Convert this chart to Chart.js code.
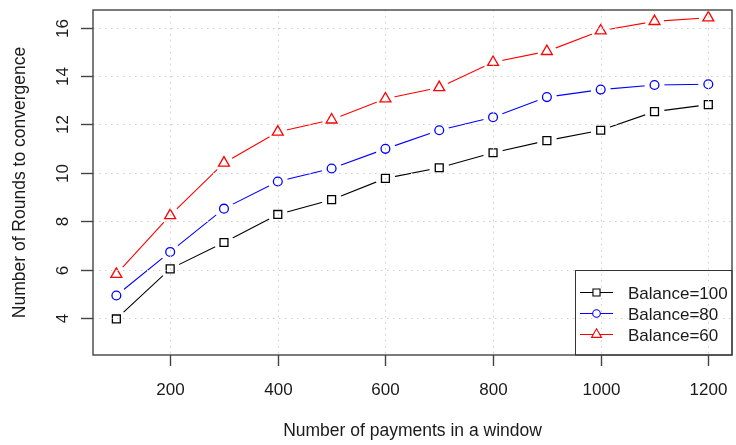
<!DOCTYPE html>
<html>
<head>
<meta charset="utf-8"/>
<style>
  html,body{margin:0;padding:0;background:#fff;overflow:hidden;}
  #wrap{position:absolute;left:0;top:0;width:742px;height:445px;}
</style>
</head>
<body>
<div id="wrap"><canvas id="c" width="742" height="445"></canvas></div>
<script src="https://cdn.jsdelivr.net/npm/chart.js@4.4.0/dist/chart.umd.min.js"></script>
<script>
// data
const payments = [100, 200, 300, 400, 500, 600, 700, 800, 900, 1000, 1100, 1200];
const bal100   = [3.96, 6.03, 7.12, 8.28, 8.89, 9.77, 10.21, 10.83, 11.33, 11.76, 12.53, 12.82];
const bal80    = [4.93, 6.73, 8.52, 9.64, 10.18, 10.99, 11.76, 12.30, 13.13, 13.44, 13.63, 13.66];
const bal60    = [5.81, 8.24, 10.41, 11.69, 12.19, 13.06, 13.53, 14.57, 15.02, 15.87, 16.26, 16.41];
const seriesNames = ["Balance=100", "Balance=80", "Balance=60"];
const xTicks = [200, 400, 600, 800, 1000, 1200];
const yTicks = [4, 6, 8, 10, 12, 14, 16];
const xTitle = "Number of payments in a window";
const yTitle = "Number of Rounds to convergence";

const FONT = '"Liberation Sans", Arial, sans-serif';
const INK  = "#1a1a1a";

const SERIES = [
  { name: seriesNames[0], vals: bal100, color: "#000000", style: "rect",     r: 5.6, halo: 10 },
  { name: seriesNames[1], vals: bal80,  color: "#0000ff", style: "circle",   r: 4.4, halo: 10 },
  { name: seriesNames[2], vals: bal60,  color: "#ff0000", style: "triangle", r: 6.3, halo: 9.5 },
];

const pts = (vals) => payments.map((p, i) => ({ x: p, y: vals[i] }));

const datasets = [];
SERIES.forEach(s => {
  // line + white halo so the line stops short of the marker (R type="b")
  datasets.push({
    label: s.name, data: pts(s.vals), borderColor: s.color, borderWidth: 1.1,
    pointStyle: "circle", pointRadius: s.halo, pointHoverRadius: s.halo,
    pointBackgroundColor: "#fff", pointBorderWidth: 0, pointBorderColor: "rgba(0,0,0,0)",
    tension: 0, fill: false, order: 1
  });
  // open markers on top
  datasets.push({
    label: s.name + " pts", data: pts(s.vals), showLine: false,
    pointStyle: s.style, pointRadius: s.r, pointHoverRadius: s.r,
    pointBorderColor: s.color, pointBackgroundColor: "rgba(0,0,0,0)", pointBorderWidth: 1.3,
    order: 0
  });
});

function seg(ctx, x1, y1, x2, y2) {
  ctx.beginPath(); ctx.moveTo(x1, y1); ctx.lineTo(x2, y2); ctx.stroke();
}

const rPlot = {
  id: "rPlot",
  afterDatasetsDraw(chart) {
    // grid() comes after the points in R, so dots sit on top
    const { ctx, chartArea: a, scales: { x, y } } = chart;
    ctx.save();
    ctx.strokeStyle = "#cfcfcf"; ctx.lineWidth = 1; ctx.setLineDash([1.5, 4.5]);
    xTicks.forEach(v => { const px = Math.round(x.getPixelForValue(v)) + 0.5; seg(ctx, px, a.top, px, a.bottom); });
    yTicks.forEach(v => { const py = Math.round(y.getPixelForValue(v)) + 0.5; seg(ctx, a.left, py, a.right, py); });
    ctx.restore();
  },
  afterDraw(chart) {
    const { ctx, chartArea: a, scales: { x, y } } = chart;
    ctx.save();
    // box
    ctx.strokeStyle = "#444"; ctx.lineWidth = 1.4;
    ctx.strokeRect(a.left, a.top, a.right - a.left, a.bottom - a.top);
    // tick marks + labels
    ctx.fillStyle = INK; ctx.font = "17px " + FONT;
    ctx.textAlign = "center"; ctx.textBaseline = "alphabetic";
    xTicks.forEach(v => {
      const px = Math.round(x.getPixelForValue(v)) + 0.5;
      seg(ctx, px, a.bottom, px, a.bottom + 11);
      ctx.fillText(String(v), px, 395);
    });
    yTicks.forEach(v => {
      const py = Math.round(y.getPixelForValue(v)) + 0.5;
      seg(ctx, a.left - 12, py, a.left, py);
      ctx.save(); ctx.translate(68, py); ctx.rotate(-Math.PI / 2);
      ctx.fillText(String(v), 0, 0); ctx.restore();
    });
    // axis titles
    ctx.font = "17.5px " + FONT;
    ctx.fillText(xTitle, (a.left + a.right) / 2, 436);
    ctx.save(); ctx.translate(25, (a.top + a.bottom) / 2); ctx.rotate(-Math.PI / 2);
    ctx.fillText(yTitle, 0, 0); ctx.restore();
    // legend (bottom right, transparent)
    ctx.strokeStyle = "#333"; ctx.lineWidth = 1;
    ctx.strokeRect(575.5, 270.5, a.right - 575.5, a.bottom - 270.5);
    ctx.font = "17px " + FONT; ctx.textAlign = "left";
    SERIES.forEach((s, i) => {
      const cy = 292.5 + i * 21;
      ctx.strokeStyle = s.color; ctx.lineWidth = 1.1;
      seg(ctx, 580, cy, 613, cy);
      ctx.fillStyle = "#fff";
      Chart.helpers.drawPoint(ctx, { pointStyle: s.style, radius: s.r - 0.6, borderWidth: 1.3, rotation: 0 }, 596.5, cy);
      ctx.fillStyle = INK;
      ctx.fillText(s.name, 628, cy + 6.5);
    });
    ctx.restore();
  }
};

new Chart(document.getElementById("c"), {
  type: "line",
  data: { datasets },
  options: {
    responsive: false, animation: false, events: [],
    layout: { padding: { left: 0, right: 2, top: 4, bottom: 0 } },
    plugins: { legend: { display: false }, tooltip: { enabled: false } },
    scales: {
      x: { type: "linear", min: 56.6, max: 1244, grid: { display: false }, border: { display: false },
           ticks: { display: false }, afterFit: s => { s.height = 90; } },
      y: { type: "linear", min: 2.47, max: 16.73, grid: { display: false }, border: { display: false },
           ticks: { display: false }, afterFit: s => { s.width = 93; } }
    }
  },
  plugins: [rPlot]
});
</script>
</body>
</html>
